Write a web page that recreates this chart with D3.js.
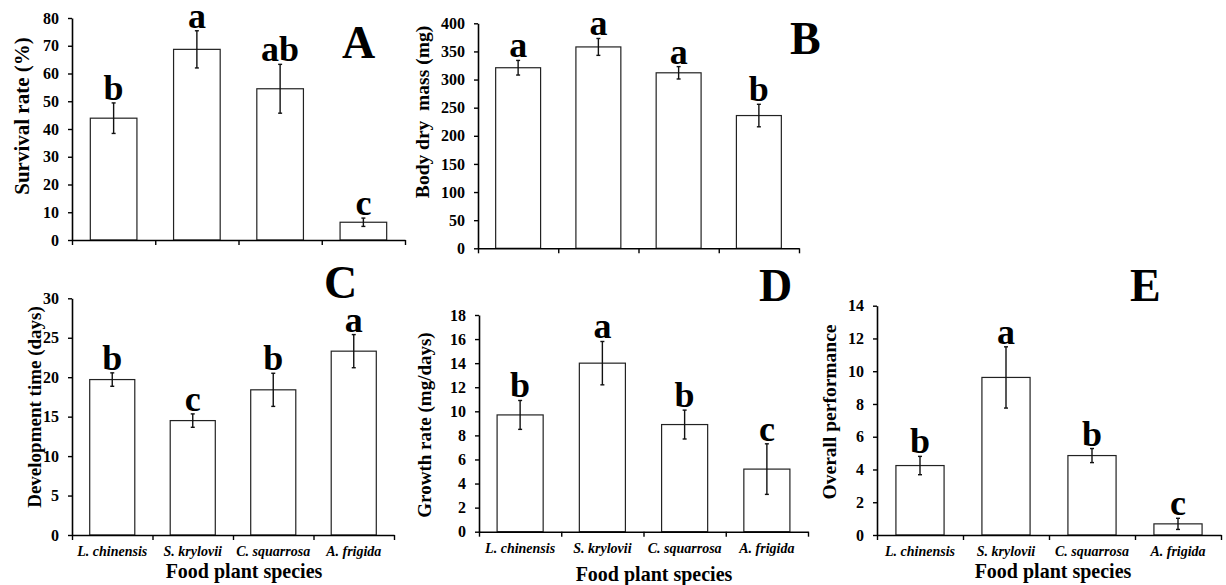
<!DOCTYPE html>
<html><head><meta charset="utf-8">
<script src="https://cdn.jsdelivr.net/npm/d3@7"></script>
<style>
html,body{margin:0;padding:0;background:#fff;}
svg text{font-family:"Liberation Serif",Tinos,"Times New Roman",Times,"DejaVu Serif",serif !important;font-weight:bold;fill:#000;}
</style></head><body>
<svg id="chart" width="1226" height="585"></svg>
<script>
// ---------- data ----------
const categories = ["L. chinensis", "S. krylovii", "C. squarrosa", "A. frigida"];

const survival = [43.9, 68.7, 54.5, 6.4];
const survivalErr = [5.5, 6.7, 8.8, 1.5];
const survivalLetters = ["b", "a", "ab", "c"];
const survivalTicks = [0, 10, 20, 30, 40, 50, 60, 70, 80];

const mass = [321, 358, 312, 236];
const massErr = [13, 15, 11, 20];
const massLetters = ["a", "a", "a", "b"];
const massTicks = [0, 50, 100, 150, 200, 250, 300, 350, 400];

const devTime = [19.7, 14.5, 18.4, 23.3];
const devTimeErr = [0.85, 0.85, 2.1, 2.1];
const devTimeLetters = ["b", "c", "b", "a"];
const devTimeTicks = [0, 5, 10, 15, 20, 25, 30];

const growth = [9.7, 14.0, 8.9, 5.2];
const growthErr = [1.2, 1.8, 1.2, 2.1];
const growthLetters = ["b", "a", "b", "c"];
const growthTicks = [0, 2, 4, 6, 8, 10, 12, 14, 16, 18];

const overall = [4.24, 9.62, 4.85, 0.68];
const overallErr = [0.56, 1.87, 0.43, 0.34];
const overallLetters = ["b", "a", "b", "c"];
const overallTicks = [0, 2, 4, 6, 8, 10, 12, 14];

const panelTags = ["A", "B", "C", "D", "E"];
const yTitles = ["Survival rate (%)", "Body dry  mass (mg)", "Development time (days)", "Growth rate (mg/days)", "Overall performance"];
const xTitle = "Food plant species";

// ---------- layout (positions / styles only) ----------
const layout = [
  {x0:72,  x1:405,  yTop:18,    y0:240,   tX:22,   tY:116, tSize:21, tagX:342,  tagY:58,  showX:false},
  {x0:478, x1:799,  yTop:23.3,  y0:248.3, tX:422,  tY:112, tSize:19.5, tagX:790, tagY:54,  showX:false},
  {x0:72,  x1:394,  yTop:298.3, y0:535,   tX:34,   tY:407, tSize:19, tagX:324,  tagY:298, showX:true, xtX:244,  xtY:578},
  {x0:479, x1:808,  yTop:315,   y0:531.7, tX:424,  tY:425, tSize:19, tagX:759,  tagY:301, showX:true, xtX:654,  xtY:581},
  {x0:877, x1:1221, yTop:305.7, y0:535,   tX:829.5,tY:412, tSize:19.5, tagX:1130, tagY:301, showX:true, xtX:1053, xtY:578}
];

const series = [
  {values:survival, errors:survivalErr, letters:survivalLetters, ticks:survivalTicks},
  {values:mass,     errors:massErr,     letters:massLetters,     ticks:massTicks},
  {values:devTime,  errors:devTimeErr,  letters:devTimeLetters,  ticks:devTimeTicks},
  {values:growth,   errors:growthErr,   letters:growthLetters,   ticks:growthTicks},
  {values:overall,  errors:overallErr,  letters:overallLetters,  ticks:overallTicks}
];

const FONT = "'Liberation Serif', Tinos, 'Times New Roman', Times, 'DejaVu Serif', serif";
const svg = d3.select("#chart");

series.forEach((s, i) => {
  const L = layout[i];
  const g = svg.append("g").attr("font-family", FONT);
  const y = d3.scaleLinear().domain([0, s.ticks[s.ticks.length - 1]]).range([L.y0, L.yTop]);
  const x = d3.scaleBand().domain(categories).range([L.x0, L.x1]).paddingInner(0.44).paddingOuter(0.22);
  const xb = d3.scaleLinear().domain([0, categories.length]).range([L.x0, L.x1]);

  const data = categories.map((c, k) => ({c, v: s.values[k], e: s.errors[k], l: s.letters[k]}));
  g.selectAll("rect.bar").data(data).join("rect")
    .attr("x", d => x(d.c)).attr("width", x.bandwidth())
    .attr("y", d => y(d.v)).attr("height", d => L.y0 - y(d.v))
    .attr("fill", "#fff").attr("stroke", "#222").attr("stroke-width", 1.2);

  const eb = g.selectAll("g.err").data(data).join("g").attr("stroke", "#111").attr("stroke-width", 1.4);
  eb.append("line").attr("x1", d => x(d.c) + x.bandwidth()/2).attr("x2", d => x(d.c) + x.bandwidth()/2)
    .attr("y1", d => y(d.v - d.e)).attr("y2", d => y(d.v + d.e));
  eb.append("line").attr("x1", d => x(d.c) + x.bandwidth()/2 - 2).attr("x2", d => x(d.c) + x.bandwidth()/2 + 2)
    .attr("y1", d => y(d.v + d.e)).attr("y2", d => y(d.v + d.e));
  eb.append("line").attr("x1", d => x(d.c) + x.bandwidth()/2 - 2).attr("x2", d => x(d.c) + x.bandwidth()/2 + 2)
    .attr("y1", d => y(d.v - d.e)).attr("y2", d => y(d.v - d.e));

  g.selectAll("text.sig").data(data).join("text")
    .attr("x", d => x(d.c) + x.bandwidth()/2).attr("y", d => y(d.v + d.e) - 3)
    .attr("text-anchor", "middle").style("font-size", "36px").text(d => d.l);

  const ya = g.append("g").attr("transform", `translate(${L.x0},0)`)
    .call(d3.axisLeft(y).tickValues(s.ticks).tickSize(4).tickSizeOuter(0).tickPadding(9));
  ya.attr("font-family", FONT);
  ya.select(".domain").attr("stroke", "#000").attr("stroke-width", 1.6);
  ya.selectAll(".tick line").attr("stroke", "#000").attr("stroke-width", 1.4);
  ya.selectAll(".tick text").style("font-size", "16px");

  const xa = g.append("g").attr("transform", `translate(0,${L.y0})`)
    .call(d3.axisBottom(xb).tickValues(d3.range(categories.length + 1)).tickSize(5).tickSizeOuter(0).tickFormat(""));
  xa.select(".domain").attr("stroke", "#000").attr("stroke-width", 1.6);
  xa.selectAll(".tick line").attr("stroke", "#000").attr("stroke-width", 1.4);

  if (L.showX) {
    g.selectAll("text.cat").data(categories).join("text")
      .attr("x", c => x(c) + x.bandwidth()/2).attr("y", L.y0 + 21)
      .attr("text-anchor", "middle").style("font-size", "14px").style("font-style", "italic").text(c => c);
    g.append("text").attr("x", L.xtX).attr("y", L.xtY).attr("text-anchor", "middle")
      .style("font-size", "20px").text(xTitle);
  }

  g.append("text").attr("transform", `translate(${L.tX},${L.tY}) rotate(-90)`)
    .attr("text-anchor", "middle").attr("dy", "0.35em").style("font-size", L.tSize + "px")
    .attr("xml:space", "preserve").style("white-space", "pre").text(yTitles[i]);

  g.append("text").attr("x", L.tagX).attr("y", L.tagY).style("font-size", "46px").text(panelTags[i]);
});
</script>
</body></html>
